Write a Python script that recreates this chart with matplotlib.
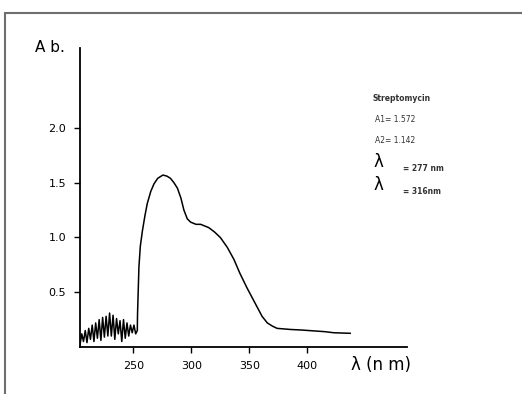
import matplotlib.pyplot as plt
from matplotlib.patches import Rectangle

# noisy low-wavelength part (nm, absorbance)
noise_nm = [204, 205.5, 207, 208.5, 210, 211.5, 213, 214.5, 216, 217.5, 219, 220.5,
            222, 223.5, 225, 226.5, 228, 229.5, 231, 232.5, 234, 235.5, 237, 238.5,
            240, 241.5, 243, 244.5, 246, 247.5, 249, 250.5, 252, 253.4]
noise_abs = [0.02, 0.12, 0.05, 0.15, 0.04, 0.17, 0.07, 0.20, 0.05, 0.22, 0.08, 0.25,
             0.06, 0.27, 0.09, 0.28, 0.10, 0.31, 0.10, 0.29, 0.07, 0.26, 0.12, 0.24,
             0.05, 0.25, 0.08, 0.22, 0.10, 0.20, 0.13, 0.20, 0.12, 0.15]

# main absorption band
band_nm = [253.6, 254.8, 256, 257.8, 260, 262, 265, 267.8, 271, 275.5, 279, 282,
           285, 288, 291, 293.6, 296.5, 299.4, 304, 308, 315, 320, 325, 331,
           336.7, 342, 348, 353, 357, 361, 365.5, 370, 374, 385.6, 395, 405.7, 415, 423, 437]
band_abs = [0.30, 0.73, 0.92, 1.06, 1.20, 1.31, 1.42, 1.49, 1.54, 1.57, 1.56, 1.54,
            1.50, 1.45, 1.36, 1.25, 1.17, 1.14, 1.12, 1.12, 1.09, 1.05, 1.00, 0.91,
            0.80, 0.67, 0.54, 0.44, 0.36, 0.28, 0.22, 0.19, 0.17, 0.16, 0.155, 0.147, 0.14, 0.13, 0.125]

y_ticks = [0.5, 1.0, 1.5, 2.0]
x_ticks = [250, 300, 350, 400]


def main():
    fig = plt.figure(figsize=(5.22, 3.94), dpi=100)
    fig.patches.append(Rectangle((0.0096, -0.01), 1.0, 0.977, transform=fig.transFigure,
                                 fill=False, edgecolor="#6e6e6e", linewidth=1.5))

    ax = fig.add_axes([0.1533, 0.1193, 0.6264, 0.7589])
    ax.plot(noise_nm + band_nm, noise_abs + band_abs, color="black", linewidth=1.1)

    ax.set_xlim(204, 486)
    ax.set_ylim(0, 2.73)
    ax.spines["top"].set_visible(False)
    ax.spines["right"].set_visible(False)
    ax.spines["left"].set_linewidth(1.3)
    ax.spines["bottom"].set_linewidth(1.3)

    ax.set_xticks(x_ticks)
    ax.set_xticklabels([str(v) for v in x_ticks])
    ax.set_yticks(y_ticks)
    ax.set_yticklabels([f"{v:.1f}" for v in y_ticks])
    ax.tick_params(direction="out", length=4, width=1, labelsize=8, pad=6)

    fig.text(0.067, 0.868, "A b.", fontsize=11)
    fig.text(0.672, 0.06, "λ (n m)", fontsize=12)

    fig.text(0.713, 0.744, "Streptomycin", fontsize=5.5, fontweight="bold", color="#333333")
    fig.text(0.718, 0.69, "A1= 1.572", fontsize=5.5, color="#333333")
    fig.text(0.718, 0.638, "A2= 1.142", fontsize=5.5, color="#333333")
    fig.text(0.716, 0.575, "λ", fontsize=12)
    fig.text(0.772, 0.565, "= 277 nm", fontsize=5.5, fontweight="bold", color="#333333")
    fig.text(0.716, 0.518, "λ", fontsize=12)
    fig.text(0.772, 0.508, "= 316nm", fontsize=5.5, fontweight="bold", color="#333333")

    fig.savefig("out.png", dpi=100)


if __name__ == "__main__":
    main()
